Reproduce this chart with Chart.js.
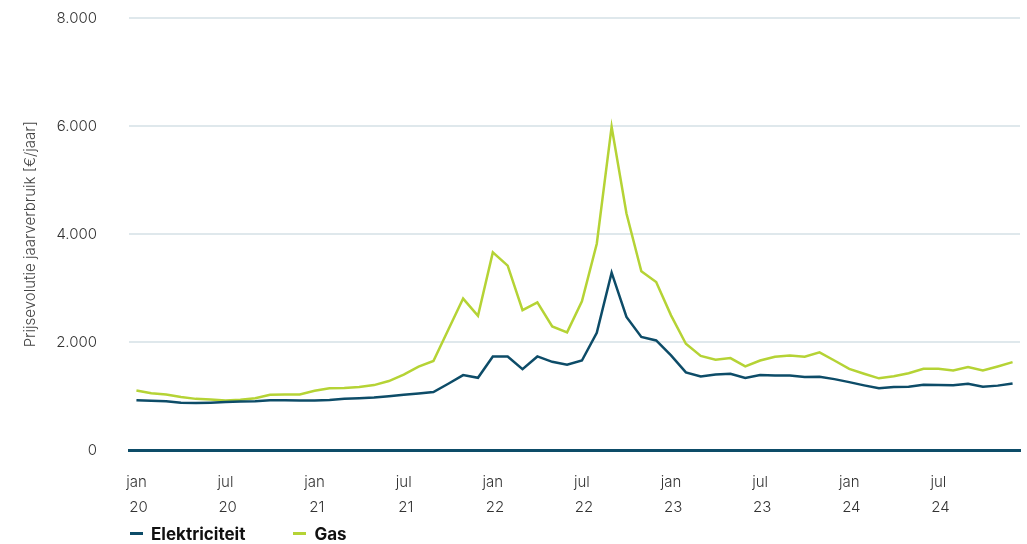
<!DOCTYPE html>
<html>
<head>
<meta charset="utf-8">
<script src="https://cdn.jsdelivr.net/npm/chart.js@4"></script>
<style>
  body { margin: 0; background: #fff; }
  #wrap { position: relative; width: 1027px; height: 544px; }
  #legend { position: absolute; left: 130px; top: 524px; font-family: Inter, sans-serif; font-weight: 700; font-size: 17px; color: #111; }
  #legend span.item { margin-right: 48px; }
  #legend span.mark { display: inline-block; width: 13px; height: 3px; margin-right: 8px; vertical-align: middle; position: relative; top: -2px; }
</style>
</head>
<body>
<div id="wrap">
  <canvas id="prijsChart" width="1027" height="544"></canvas>
  <div id="legend"></div>
</div>
<script>
// maanden jan 2020 - dec 2024
var maanden = ['jan','feb','mrt','apr','mei','jun','jul','aug','sep','okt','nov','dec'];
var jaren = ['20','21','22','23','24'];
var labels = [];
jaren.forEach(function (j) {
    maanden.forEach(function (m) { labels.push([m, ' ' + j]); });
});

var elektriciteit = [930,920,910,885,880,885,895,905,910,930,
                     930,925,925,935,955,965,980,1005,1030,1055,
                     1080,1235,1395,1345,1740,1740,1505,1740,1640,1585,
                     1665,2175,3290,2470,2100,2035,1760,1445,1370,1405,
                     1420,1340,1395,1385,1385,1360,1365,1320,1265,1205,
                     1150,1175,1180,1215,1210,1205,1235,1180,1200,1240];

var gas = [1110,1060,1035,990,955,945,925,940,965,1030,
           1035,1035,1105,1150,1155,1175,1210,1285,1405,1550,
           1655,2235,2810,2490,3665,3420,2595,2740,2295,2185,
           2760,3825,5990,4385,3315,3115,2500,1975,1750,1680,
           1710,1555,1665,1735,1755,1735,1815,1665,1510,1420,
           1335,1375,1430,1510,1510,1480,1545,1480,1555,1635];

var yTicks = [0, 2000, 4000, 6000, 8000];

var blauw = '#0d4c68';
var groen = '#b5d335';

function punten(v) {
    return String(v).replace(/\B(?=(\d{3})+(?!\d))/g, '.');
}

function geenPadding(scale) {
    scale.paddingTop = 0;
    scale.paddingBottom = 0;
    scale.paddingLeft = 0;
    scale.paddingRight = 0;
}

var ctx = document.getElementById('prijsChart').getContext('2d');
const prijsChart = new Chart(ctx, {
    type: 'line',
    data: {
        labels: labels,
        datasets: [
            {
                label: 'Elektriciteit',
                data: elektriciteit,
                borderColor: blauw,
                backgroundColor: blauw,
                borderWidth: 2.5,
                pointRadius: 0,
                tension: 0
            },
            {
                label: 'Gas',
                data: gas,
                borderColor: groen,
                backgroundColor: groen,
                borderWidth: 2.5,
                pointRadius: 0,
                tension: 0
            }
        ]
    },
    options: {
        responsive: false,
        animation: false,
        layout: {
            padding: { top: 18, right: 7, bottom: 4, left: 0 }
        },
        plugins: {
            legend: { display: false },
            tooltip: { enabled: false }
        },
        scales: {
            x: {
                offset: true,
                afterFit: geenPadding,
                grid: { display: false, drawTicks: false },
                border: { display: true, color: blauw, width: 3 },
                ticks: {
                    autoSkip: false,
                    maxRotation: 0,
                    padding: 20,
                    color: '#333',
                    font: { family: 'Inter', size: 15, weight: 300, lineHeight: 1.65 },
                    callback: function (value, index) {
                        return index % 6 === 0 ? labels[index] : '';
                    }
                }
            },
            y: {
                min: 0,
                max: 8000,
                afterFit: function (scale) { geenPadding(scale); scale.width = 129; },
                afterBuildTicks: function (scale) {
                    scale.ticks = yTicks.map(function (v) { return { value: v }; });
                },
                grid: {
                    drawTicks: false,
                    lineWidth: 2,
                    color: function (c) { return c.tick && c.tick.value === 0 ? 'rgba(0,0,0,0)' : '#dfe8ec'; }
                },
                border: { display: false },
                ticks: {
                    padding: 32,
                    color: '#333',
                    font: { family: 'Inter', size: 15, weight: 300 },
                    callback: function (v) { return punten(v); }
                },
                title: {
                    display: true,
                    text: 'Prijsevolutie jaarverbruik [€/jaar]',
                    color: '#444',
                    padding: { top: 21, bottom: 0 },
                    font: { family: 'Inter', size: 15, weight: 300 }
                }
            }
        }
    }
});

// legenda als html
var legend = document.getElementById('legend');
prijsChart.data.datasets.forEach(function (ds) {
    var item = document.createElement('span');
    item.className = 'item';
    var mark = document.createElement('span');
    mark.className = 'mark';
    mark.style.background = ds.borderColor;
    item.appendChild(mark);
    item.appendChild(document.createTextNode(ds.label));
    legend.appendChild(item);
});
</script>
</body>
</html>
